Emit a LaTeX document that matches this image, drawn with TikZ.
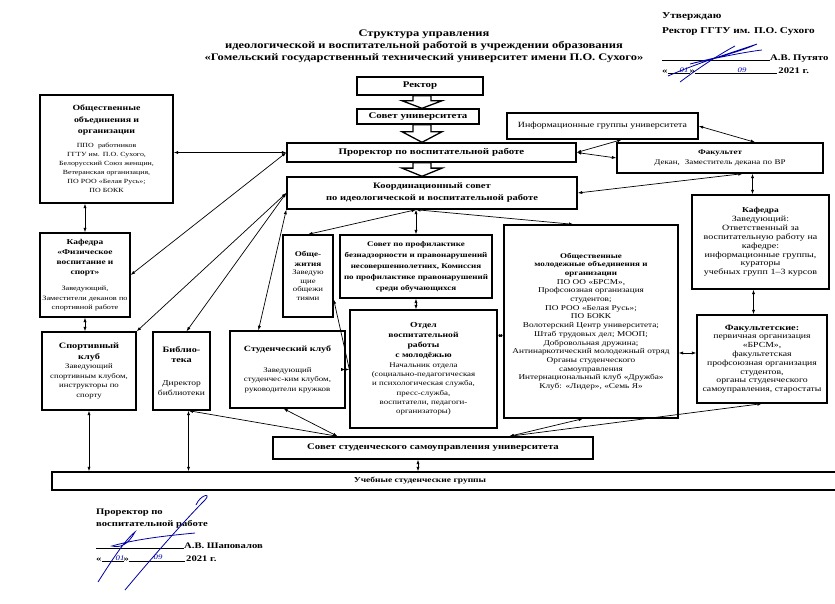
\documentclass[tikz,border=0pt]{standalone}
\usepackage{fontspec}
\setmainfont{Liberation Serif}[FakeStretch=1.25]
\usetikzlibrary{arrows.meta,calc}

% heading of a box: size, leading, text
\newcommand{\boxhead}[3]{{\bfseries\fontsize{#1}{#2}\selectfont #3\par}}
\newcommand{\hollowarrow}[2]{%
  \draw[hollow] let \p1=(#1.south), \p2=(#2.north), \n1={\y1+0.4*(\y2-\y1)} in
    (413pt,\y1) -- (431pt,\y1) -- (431pt,\n1) -- (442pt,\n1) -- (422pt,\y2)
    -- (402pt,\n1) -- (413pt,\n1) -- cycle;}

\tikzset{
  box/.style={draw, line width=1.3pt, align=center, inner sep=1pt,
    font=\fontsize{7}{8.8}\selectfont},
  bigbox/.style={draw, line width=1.4pt, align=center, inner sep=1pt,
    font=\bfseries\fontsize{8.7}{11}\selectfont},
  link/.style={<->, line width=0.7pt, >={Latex[length=4.5pt,width=3.2pt]}},
  hollow/.style={line width=1.3pt, fill=white},
  sigtext/.style={anchor=base west, inner sep=0pt, font=\bfseries\fontsize{8.5}{11}\selectfont},
  hand/.style={inner sep=0pt, text=blue!70!black, font=\itshape\fontsize{7}{8}\selectfont},
  signstroke/.style={blue!65!black, line width=0.8pt},
}

\begin{document}
\begin{tikzpicture}[x=1pt, y=-1pt]
  \useasboundingbox (0,0) rectangle (835,604);

  % title and approval
  \node[align=center, font=\bfseries\fontsize{10}{12}\selectfont] (title) at (424,46)
    {Структура управления\\
     идеологической и воспитательной работой в учреждении образования\\
     «Гомельский государственный технический университет имени П.О. Сухого»};
  \node[sigtext, font=\bfseries\fontsize{9}{11}\selectfont] (utv) at (662,19) {Утверждаю};
  \node[sigtext, font=\bfseries\fontsize{9}{11}\selectfont] (rsig) at (662,34) {Ректор ГГТУ им. П.О. Сухого};
  \node[sigtext, font=\bfseries\fontsize{8.6}{11}\selectfont] (putyato) at (662,61) {\rule{108pt}{0.5pt}А.В. Путято};
  \node[sigtext, font=\bfseries\fontsize{8.6}{11}\selectfont] (date1) at (662,74) {«\rule{22pt}{0.5pt}»\rule{82pt}{0.5pt}\,2021 г.};
  \node[hand] (d1a) at (684,70) {01};
  \node[hand] (d1b) at (742,70) {09};
  \draw[signstroke] (668,76) .. controls (700,62) and (740,50) .. (757,44)
    .. controls (735,54) and (705,60) .. (690,64) .. controls (715,58) and (745,52) .. (762,50);
  \draw[signstroke] (680,82) .. controls (700,67) and (720,54) .. (735,46);

  % top chain
  \node[bigbox, text width=124pt, minimum height=18pt] (rektor) at (420,86) {Ректор};
  \node[bigbox, text width=120pt, minimum height=15pt] (sovet) at (418,116.5) {Совет университета};
  \node[bigbox, text width=287pt, minimum height=19pt] (prorektor) at (431.5,152.5)
    {Проректор по воспитательной работе};
  \node[bigbox, text width=288pt, minimum height=32pt, font=\bfseries\fontsize{8.4}{12}\selectfont] (koord) at (432,193)
    {Координационный совет\\ по идеологической и воспитательной работе};
  \hollowarrow{rektor}{sovet}
  \hollowarrow{sovet}{prorektor}
  \hollowarrow{prorektor}{koord}

  % right side
  \node[box, text width=189pt, minimum height=26pt, font=\fontsize{7.9}{9}\selectfont] (infogr) at (602.5,126)
    {Информационные группы университета};
  \node[box, text width=204pt, minimum height=30pt, font=\fontsize{7.2}{10}\selectfont] (fakultet) at (720,158)
    {{\bfseries Факультет}\\ Декан,\ \ Заместитель декана по ВР};
  \node[box, text width=135pt, minimum height=94pt, font=\fontsize{8}{8.9}\selectfont] (kafedra) at (760.5,242)
    {\boxhead{7.5}{9}{Кафедра}Заведующий:\\ Ответственный за\\ воспитательную работу на\\ кафедре:\\
     информационные группы,\\ кураторы\\ учебных групп 1–3 курсов};
  \node[box, text width=172pt, minimum height=193pt, font=\fontsize{7.4}{8.7}\selectfont] (molodezh) at (591,321.5)
    {\boxhead{7.2}{8.7}{Общественные\\ молодежные объединения и\\ организации}ПО ОО «БРСМ»,\\
     Профсоюзная организация\\ студентов;\\ ПО РОО «Белая Русь»;\\ ПО БОКК\\
     Волотерский Центр университета;\\ Штаб трудовых дел; МООП;\\ Добровольная дружина;\\
     Антинаркотический молодежный отряд\\ Органы студенческого\\ самоуправления\\
     Интернациональный клуб «Дружба»\\ Клуб: «Лидер», «Семь Я»\\[36pt]};
  \node[box, text width=128pt, minimum height=88pt, font=\fontsize{7.8}{8.8}\selectfont] (fakultetskie) at (762,359)
    {\boxhead{8.2}{9.5}{Факультетские:}первичная организация\\ «БРСМ»,\\ факультетская\\
     профсоюзная организация\\ студентов,\\ органы студенческого\\ самоуправления, старостаты};

  % left side
  \node[box, text width=131pt, minimum height=108pt, font=\fontsize{6.3}{9}\selectfont] (obshob) at (106.5,149)
    {\boxhead{7.9}{11.5}{Общественные\\ объединения и\\ организации}\vspace{5pt}ППО\ \ работников\\
     ГГТУ им. П.О. Сухого,\\ Белорусский Союз женщин,\\ Ветеранская организация,\\
     ПО РОО «Белая Русь»;\\ ПО БОКК};
  \node[box, text width=88pt, minimum height=84pt, font=\fontsize{6.6}{9.5}\selectfont] (kfvs) at (85,275)
    {\boxhead{7.5}{10}{Кафедра\\ «Физическое\\ воспитание и\\ спорт»}\vspace{7pt}Заведующий,\\
     Заместители деканов по\\ спортивной работе};
  \node[box, text width=48pt, minimum height=82pt, font=\fontsize{7}{8.6}\selectfont] (obshezh) at (308,276)
    {\boxhead{7.3}{9.5}{Обще-\\жития}Заведую\\щие\\ общежи\\тиями\\[6pt]};
  \node[box, text width=150pt, minimum height=63pt] (profil) at (416,266.5)
    {\boxhead{7.2}{11}{Совет по профилактике\\ безнадзорности и правонарушений\\
     несовершеннолетних, Комиссия\\ по профилактике правонарушений\\ среди обучающихся}};
  \node[box, text width=145pt, minimum height=118pt, font=\fontsize{7.1}{9.3}\selectfont] (otdel) at (423.5,369)
    {\boxhead{7.7}{10}{Отдел\\ воспитательной\\ работы\\ с молодёжью}Начальник отдела\\
     (социально-педагогическая\\ и психологическая служба,\\ пресс-служба,\\
     воспитатели, педагоги-\\ организаторы)};
  \node[box, text width=92pt, minimum height=78pt, font=\fontsize{7}{9.6}\selectfont] (sport) at (89,371)
    {\boxhead{8.2}{10.5}{Спортивный\\ клуб}Заведующий\\ спортивным клубом,\\ инструкторы по\\ спорту};
  \node[box, text width=55pt, minimum height=78pt, font=\fontsize{7.6}{10.5}\selectfont] (lib) at (181.5,371)
    {\boxhead{8.2}{10.5}{Библио-\\ тека}\vspace{12pt}Директор\\ библиотеки\\[12pt]};
  \node[box, text width=113pt, minimum height=77pt, font=\fontsize{7.1}{9.6}\selectfont] (studclub) at (287.5,369.5)
    {\boxhead{8}{10}{Студенческий клуб}\vspace{11pt}Заведующий\\ студенчес-ким клубом,\\
     руководители кружков\\[10pt]};

  % bottom
  \node[bigbox, text width=318pt, minimum height=22pt, font=\bfseries\fontsize{8.6}{10}\selectfont]
    (sovstud) at (433,448) {Совет студенческого самоуправления университета};
  \node[draw, line width=1.4pt, minimum width=793pt, minimum height=18pt, inner sep=0pt]
    (ucheb) at (448.5,481) {};
  \node[font=\bfseries\fontsize{7.6}{10}\selectfont] (uchebT) at (420,481) {Учебные студенческие группы};

  % links
  \draw[link] (prorektor.west) -- (obshob.east |- prorektor.west);
  \draw[link] (prorektor.west) -- (kfvs.east);
  \draw[link] (koord.west) -- (sport.north east);
  \draw[link] (koord.west) -- ($(lib.north)+(5,0)$);
  \draw[link] (koord.south west) -- ($(studclub.north west)!0.25!(studclub.north east)$);
  \coordinate (kbot) at (profil.north |- koord.south);
  \draw[link] (kbot) -- (profil.north);
  \draw[link] (kbot) -- (obshezh.north);
  \draw[link] (kbot) -- ($(molodezh.north west)!0.4!(molodezh.north east)$);
  \draw[link] (profil.south) -- (profil.south |- otdel.north);
  \coordinate (junc) at (otdel.west |- studclub.east);
  \draw[link] (studclub.east) -- (junc);
  \draw[link, <-] ($(obshezh.east)!0.56!(obshezh.south east)$) -- (junc);
  \coordinate (otr) at ($(otdel.north east)!0.22!(otdel.south east)$);
  \draw[link] (otr) -- (molodezh.west |- otr);
  \coordinate (fkl) at ($(fakultetskie.west)+(0,-6)$);
  \draw[link] (fkl) -- (molodezh.east |- fkl);
  \draw[link] (prorektor.east) -- ($(infogr.south west)!0.6!(infogr.south east)$);
  \draw[link] (prorektor.east) -- (fakultet.west);
  \draw[link] (infogr.east) -- ($(fakultet.north west)!0.67!(fakultet.north east)$);
  \draw[link] ($(fakultet.south west)!0.61!(fakultet.south east)$) -- (koord.east);
  \coordinate (kaft) at ($(kafedra.north)+(-8,0)$);
  \draw[link] (kaft) -- (kaft |- fakultet.south);
  \coordinate (kafb) at ($(kafedra.south)+(-7,0)$);
  \draw[link] (kafb) -- (kafb |- fakultetskie.north);
  \draw[link] (kfvs.north) -- (kfvs.north |- obshob.south);
  \draw[link] (kfvs.south) -- (kfvs.south |- sport.north);
  \draw[link] (sport.south) -- (sport.south |- ucheb.north);
  \coordinate (libb) at ($(lib.south)+(7,0)$);
  \draw[link] (libb) -- (libb |- ucheb.north);
  \coordinate (ssl) at ($(sovstud.north west)!0.203!(sovstud.north east)$);
  \coordinate (ssr) at ($(sovstud.north west)!0.7375!(sovstud.north east)$);
  \draw[link] (ssl) -- (libb);
  \draw[link] (ssl) -- ($(studclub.south)+(-4,0)$);
  \draw[link] (ssr) -- ($(molodezh.south)+(-8,0)$);
  \draw[link] (ssr) -- (fakultetskie.south);
  \coordinate (ssb) at ($(sovstud.south)+(-15,0)$);
  \draw[link] (ssb) -- (ssb |- ucheb.north);

  % signature of the vice-rector
  \node[sigtext] (pror1) at (96,514) {Проректор по};
  \node[sigtext] (pror2) at (96,526) {воспитательной работе};
  \node[sigtext] (shap) at (96,548) {\rule{88pt}{0.5pt}А.В. Шаповалов};
  \node[sigtext] (date2) at (96,561) {«\rule{22pt}{0.5pt}»\rule{56pt}{0.5pt}\,2021 г.};
  \node[hand] (d2a) at (120,558) {01};
  \node[hand] (d2b) at (158,557) {09};
  \draw[signstroke] (98,582) .. controls (112,560) and (125,540) .. (135,532)
    .. controls (128,545) and (120,548) .. (112,546) .. controls (140,538) and (175,535) .. (195,533);
  \draw[signstroke] (125,590) .. controls (150,560) and (185,520) .. (205,500)
    .. controls (212,492) and (200,495) .. (196,505);
\end{tikzpicture}
\end{document}
